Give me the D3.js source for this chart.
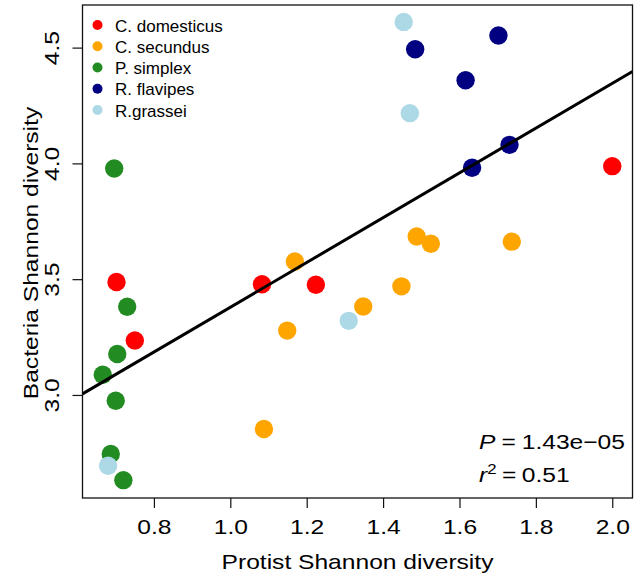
<!DOCTYPE html>
<html>
<head>
<meta charset="utf-8">
<script src="https://cdn.jsdelivr.net/npm/d3@7"></script>
<style>
  html, body { margin: 0; padding: 0; background: #fff; }
  svg { display: block; font-family: "Liberation Sans", Arial, Helvetica, sans-serif; }
</style>
</head>
<body>
<svg id="chart" width="638" height="581"></svg>
<script>
// ---- Data ----
const groups = ["C. domesticus", "C. secundus", "P. simplex", "R. flavipes", "R.grassei"];
const groupColors = ["#FF0000", "#FFA500", "#228B22", "#000080", "#ADD8E6"];

const domesticusX = [0.702, 0.750, 1.083, 1.224, 2.000];
const domesticusY = [3.488, 3.235, 3.478, 3.476, 3.988];

const secundusX = [1.088, 1.149, 1.169, 1.348, 1.448, 1.488, 1.525, 1.737];
const secundusY = [2.853, 3.278, 3.576, 3.382, 3.469, 3.684, 3.653, 3.662];

const simplexX = [0.696, 0.730, 0.704, 0.666, 0.700, 0.687, 0.720];
const simplexY = [3.978, 3.381, 3.177, 3.087, 2.975, 2.745, 2.632];

const flavipesX = [1.484, 1.702, 1.616, 1.731, 1.633];
const flavipesY = [4.493, 4.552, 4.359, 4.080, 3.981];

const grasseiX = [1.454, 1.470, 1.310, 0.680];
const grasseiY = [4.611, 4.217, 3.320, 2.694];

const xTicks = [0.8, 1.0, 1.2, 1.4, 1.6, 1.8, 2.0];
const yTicks = [3.0, 3.5, 4.0, 4.5];
const xDomain = [0.613, 2.053];
const yDomain = [2.555, 4.684];

const fitIntercept = 2.412;
const fitSlope = 0.9667;
const pLabel = "1.43e\u221205";
const r2Label = "0.51";

const xTitle = "Protist Shannon diversity";
const yTitle = "Bacteria Shannon diversity";

// ---- Build table ----
const seriesX = [domesticusX, secundusX, simplexX, flavipesX, grasseiX];
const seriesY = [domesticusY, secundusY, simplexY, flavipesY, grasseiY];
const points = [];
groups.forEach((g, gi) => {
  seriesX[gi].forEach((xv, i) => points.push({ group: g, gi, x: xv, y: seriesY[gi][i] }));
});

// ---- Layout ----
const box = { left: 82.5, right: 632.5, top: 5, bottom: 498 };
const stretch = 1.2;
const axisFont = 20.5;

const svg = d3.select("#chart");
const x = d3.scaleLinear().domain(xDomain).range([box.left, box.right]);
const y = d3.scaleLinear().domain(yDomain).range([box.bottom, box.top]);

// Points
svg.append("g").selectAll("circle")
  .data(points)
  .join("circle")
  .attr("cx", d => x(d.x))
  .attr("cy", d => y(d.y))
  .attr("r", 9.2)
  .attr("fill", d => groupColors[d.gi]);

// Regression line (abline across the plot box)
svg.append("line")
  .attr("x1", x(xDomain[0])).attr("y1", y(fitIntercept + fitSlope * xDomain[0]))
  .attr("x2", x(xDomain[1])).attr("y2", y(fitIntercept + fitSlope * xDomain[1]))
  .attr("stroke", "#000").attr("stroke-width", 3);

// Box
svg.append("rect")
  .attr("x", box.left).attr("y", box.top)
  .attr("width", box.right - box.left).attr("height", box.bottom - box.top)
  .attr("fill", "none").attr("stroke", "#111").attr("stroke-width", 1.3);

// X axis
const gx = svg.append("g")
  .attr("transform", `translate(0,${box.bottom})`)
  .call(d3.axisBottom(x).tickValues(xTicks).tickSize(10).tickFormat(d3.format(".1f")));
gx.select(".domain").remove();
gx.selectAll(".tick line").attr("stroke", "#111").attr("stroke-width", 1.2);
gx.selectAll(".tick text")
  .attr("x", null).attr("y", null).attr("dy", null)
  .attr("transform", `translate(0,36) scale(${stretch},1)`)
  .attr("text-anchor", "middle")
  .attr("fill", "#000")
  .style("font-size", axisFont + "px")
  .style("font-family", "'Liberation Sans', Arial, sans-serif");

// Y axis
const gy = svg.append("g")
  .attr("transform", `translate(${box.left},0)`)
  .call(d3.axisLeft(y).tickValues(yTicks).tickSize(10).tickFormat(d3.format(".1f")));
gy.select(".domain").remove();
gy.selectAll(".tick line").attr("stroke", "#111").attr("stroke-width", 1.2);
gy.selectAll(".tick text")
  .attr("x", null).attr("y", null).attr("dy", null)
  .attr("transform", `translate(-24,0) rotate(-90) scale(${stretch},1)`)
  .attr("text-anchor", "middle")
  .attr("fill", "#000")
  .style("font-size", axisFont + "px")
  .style("font-family", "'Liberation Sans', Arial, sans-serif");

// Axis titles
svg.append("text")
  .attr("transform", `translate(${(box.left + box.right) / 2},569) scale(${stretch},1)`)
  .attr("text-anchor", "middle")
  .style("font-size", axisFont + "px")
  .text(xTitle);

svg.append("text")
  .attr("transform", `translate(38,${(box.top + box.bottom) / 2 + 1.5}) rotate(-90) scale(${stretch},1)`)
  .attr("text-anchor", "middle")
  .style("font-size", axisFont + "px")
  .text(yTitle);

// Legend
const legend = svg.append("g");
groups.forEach((g, i) => {
  const cy = 25 + i * 21.25;
  legend.append("circle").attr("cx", 97.5).attr("cy", cy).attr("r", 5).attr("fill", groupColors[i]);
  legend.append("text").attr("x", 115).attr("y", cy + 6.5)
    .style("font-size", "17px").text(g);
});

// Annotation
const t1 = svg.append("text")
  .attr("transform", `translate(479,449) scale(${stretch},1)`)
  .style("font-size", axisFont + "px");
t1.append("tspan").style("font-style", "italic").text("P");
t1.append("tspan").attr("dx", 5).text("=");
t1.append("tspan").attr("dx", 5).text(pLabel);

const t2 = svg.append("text")
  .attr("transform", `translate(479,482) scale(${stretch},1)`)
  .style("font-size", axisFont + "px");
t2.append("tspan").style("font-style", "italic").text("r");
t2.append("tspan").attr("dy", -8).style("font-size", "14px").text("2");
t2.append("tspan").attr("dy", 8).attr("dx", 4.5).text("=");
t2.append("tspan").attr("dx", 4.5).text(r2Label);
</script>
</body>
</html>
